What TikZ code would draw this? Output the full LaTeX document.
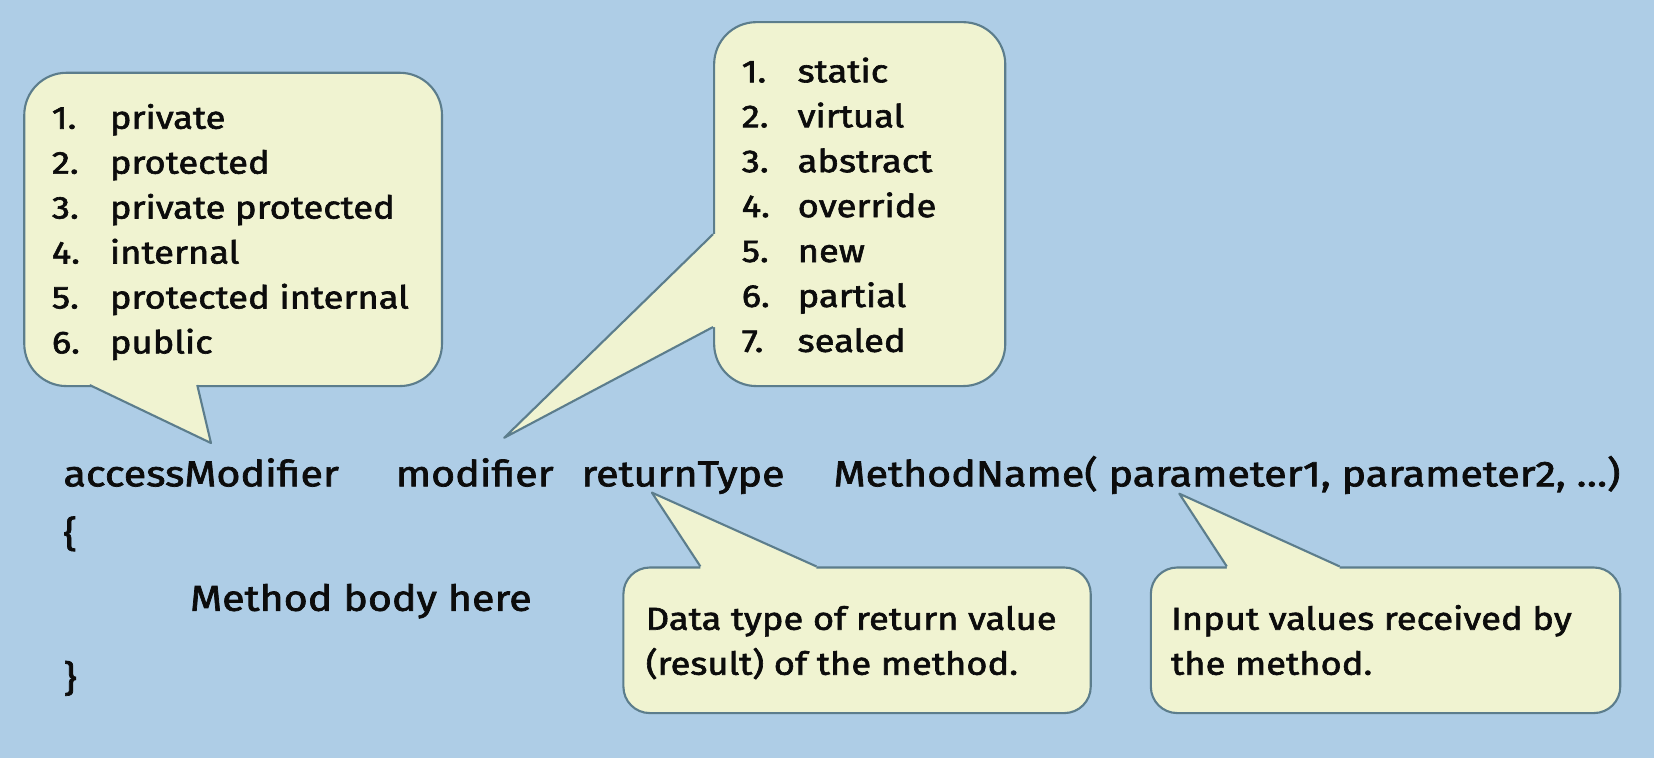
\documentclass[tikz,border=0pt]{standalone}
\usepackage{fontspec}
\setmainfont{Fira Sans}[FakeBold=2, FakeStretch=1.15]
\definecolor{bgblue}{RGB}{174,205,230}
\definecolor{calloutbg}{RGB}{240,243,209}
\definecolor{calloutline}{RGB}{92,125,140}
\definecolor{ink}{RGB}{12,12,12}

\begin{document}
\begin{tikzpicture}[
        x=1pt, y=-1pt,
        every node/.style={text=ink, inner sep=0pt},
        callout/.style={draw=calloutline, fill=calloutbg, line width=2pt, rounded corners=40pt, anchor=north west},
        pointer/.style={fill=calloutbg},
        pointeredge/.style={draw=calloutline, line width=2pt, line join=round},
        item/.style={anchor=base west, font=\fontsize{30}{42.6}\selectfont},
        code/.style={anchor=base west, font=\fontsize{34}{40}\selectfont}
    ]
        \fill[bgblue] (0,0) rectangle (1568,719);

        % access modifiers
        \node[callout, minimum width=396pt, minimum height=297pt] (access) at (22,68) {};
        \fill[pointer] (85,361) -- (85,365) -- (200,420) -- (187,365) -- (187,361) -- cycle;
        \draw[pointeredge] (85,365) -- (200,420) -- (187,365);
        \node[item] (accesslist) at (49,122) {\begin{tabular}[t]{@{}p{55pt}@{}l@{}}
            1. & private\\
            2. & protected\\
            3. & private protected\\
            4. & internal\\
            5. & protected internal\\
            6. & public
        \end{tabular}};

        % modifiers
        \node[callout, minimum width=276pt, minimum height=345pt] (mods) at (676,20) {};
        \fill[pointer] (680,222) -- (676,222) -- (478,415) -- (676,310) -- (680,310) -- cycle;
        \draw[pointeredge] (676,222) -- (478,415) -- (676,310);
        \node[item] (modslist) at (703,78) {\begin{tabular}[t]{@{}p{53pt}@{}l@{}}
            1. & static\\
            2. & virtual\\
            3. & abstract\\
            4. & override\\
            5. & new\\
            6. & partial\\
            7. & sealed
        \end{tabular}};

        % method signature
        \node[code] (accmod) at (60,461) {accessModifier};
        \node[code] (mod) at (375,461) {modifier};
        \node[code] (rettype) at (551,461) {returnType};
        \node[code] (name) at (790,461) {MethodName( parameter1, parameter2, …)};
        \node[code] (open) at (60,518) {\{};
        \node[code] (body) at (180,579) {Method body here};
        \node[code] (close) at (60,655) {\}};

        % return type
        \node[callout, rounded corners=25pt, minimum width=443pt, minimum height=138pt] (ret) at (590,537) {};
        \fill[pointer] (664,541) -- (664,537) -- (618,467) -- (774,537) -- (774,541) -- cycle;
        \draw[pointeredge] (664,537) -- (618,467) -- (774,537);
        \node[item] (rettext) at (612,597) {\begin{tabular}[t]{@{}l@{}}
            Data type of return value\\
            (result) of the method.
        \end{tabular}};

        % parameters
        \node[callout, rounded corners=25pt, minimum width=445pt, minimum height=138pt] (params) at (1090,537) {};
        \fill[pointer] (1163,541) -- (1163,537) -- (1118,468) -- (1270,537) -- (1270,541) -- cycle;
        \draw[pointeredge] (1163,537) -- (1118,468) -- (1270,537);
        \node[item] (paramtext) at (1110,597) {\begin{tabular}[t]{@{}l@{}}
            Input values received by\\
            the method.
        \end{tabular}};
    \end{tikzpicture}
\end{document}
